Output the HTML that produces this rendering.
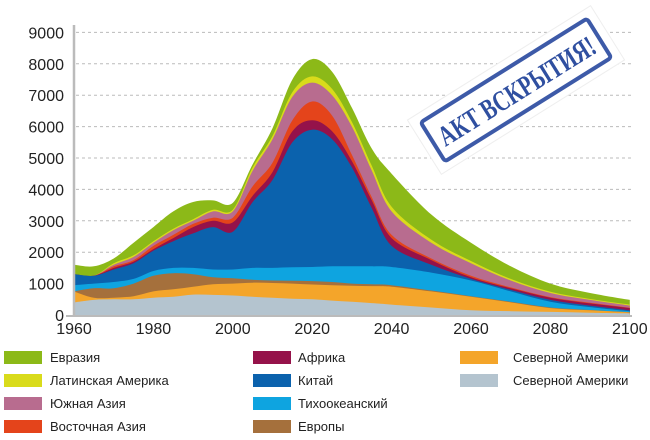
<!DOCTYPE html><html><head><meta charset="utf-8"><style>
body{margin:0;background:#fff;width:650px;height:435px;overflow:hidden;font-family:"Liberation Sans",sans-serif}
</style></head><body>
<svg id="s" width="650" height="435" xmlns="http://www.w3.org/2000/svg" font-family="Liberation Sans, sans-serif">
<g id="grid"></g><g id="areas"></g>
<line x1="74" y1="25" x2="74" y2="316" stroke="#bbb" stroke-width="2.5"/>
<line x1="66" y1="316" x2="632" y2="316" stroke="#bbb" stroke-width="2"/>
<g id="lab" font-size="16" fill="#222"></g>
<g transform="translate(516,90) rotate(-32)">
<rect x="-108" y="-32" width="216" height="64" fill="#fff" stroke="#eee"/>
<rect x="-98" y="-23" width="196" height="46" fill="none" stroke="#3d5aa8" stroke-width="4" rx="3"/>
<text x="0" y="11" text-anchor="middle" font-family="Liberation Serif, serif" font-weight="bold" font-size="29" fill="#2f4fa0" textLength="180" lengthAdjust="spacingAndGlyphs">АКТ ВСКРЫТИЯ!</text>
</g>
<g font-size="13" fill="#222" id="leg"></g>
</svg>
<script>
const X=y=>74+(y-1960)*3.97, Y=v=>315-v*31.4;
const yrs=[1960,1965,1970,1975,1980,1985,1990,1995,2000,2005,2010,2015,2020,2025,2030,2035,2040,2050,2060,2070,2080,2090,2100];
const L=[
["#b4c4cf",[.4,.48,.5,.5,.55,.58,.65,.64,.62,.58,.55,.52,.5,.46,.42,.38,.33,.24,.15,.12,.1,.07,.05]],
["#f4a52a",[.75,.55,.55,.6,.75,.82,.9,.98,1.0,1.03,1.02,1.0,.97,.95,.93,.92,.9,.75,.58,.4,.22,.15,.08]],
["#a5703c",[.75,.85,.85,1.0,1.25,1.33,1.3,1.2,1.17,1.12,1.1,1.09,1.08,1.05,1.0,.98,.95,.78,.6,.42,.24,.16,.09]],
["#0ea4e0",[.95,1.0,1.05,1.15,1.4,1.5,1.5,1.45,1.45,1.5,1.5,1.52,1.53,1.55,1.55,1.55,1.53,1.35,1.1,.75,.42,.25,.12]],
["#0b62ad",[1.3,1.25,1.45,1.65,2.05,2.35,2.6,2.8,2.65,3.6,4.3,5.5,5.9,5.6,4.7,3.4,2.2,1.6,1.15,.8,.48,.3,.15]],
["#95124a",[1.3,1.25,1.5,1.7,2.1,2.45,2.8,3.0,2.95,3.8,4.55,5.85,6.2,5.85,4.9,3.65,2.45,1.75,1.2,.85,.55,.37,.22]],
["#e4441b",[1.3,1.25,1.55,1.75,2.2,2.55,2.9,3.1,3.1,4.1,4.85,6.2,6.8,6.35,5.1,3.75,2.55,1.8,1.25,.88,.57,.39,.23]],
["#b86c8f",[1.3,1.25,1.6,1.85,2.3,2.7,3.0,3.3,3.3,4.6,5.6,6.95,7.4,7.0,6.0,4.6,3.3,2.3,1.65,1.1,.7,.48,.3]],
["#d9db1b",[1.3,1.25,1.65,1.9,2.35,2.75,3.05,3.35,3.35,4.7,5.7,7.1,7.6,7.2,6.15,4.75,3.45,2.4,1.72,1.15,.74,.51,.33]],
["#8cb918",[1.6,1.55,1.8,2.3,2.8,3.3,3.6,3.65,3.57,4.8,5.95,7.5,8.15,7.75,6.6,5.3,4.5,3.2,2.3,1.55,1.0,.7,.48]]];
function path(pts){let d='M'+pts[0].join(',');
for(let i=0;i<pts.length-1;i++){const p0=pts[Math.max(0,i-1)],p1=pts[i],p2=pts[i+1],p3=pts[Math.min(pts.length-1,i+2)];
const c1=[p1[0]+(p2[0]-p0[0])/6,p1[1]+(p2[1]-p0[1])/6],c2=[p2[0]-(p3[0]-p1[0])/6,p2[1]-(p3[1]-p1[1])/6];
d+=` C${c1[0].toFixed(1)},${c1[1].toFixed(1)} ${c2[0].toFixed(1)},${c2[1].toFixed(1)} ${p2[0].toFixed(1)},${p2[1].toFixed(1)}`;}
return d;}
let a='';
for(let i=L.length-1;i>=0;i--){const pts=yrs.map((y,j)=>[X(y),Y(L[i][1][j])]);
a+=`<path fill="${L[i][0]}" d="${path(pts)} L${X(2100)},315 L${X(1960)},315 Z"/>`;}
document.getElementById('areas').innerHTML=a;
let g='',t='';
for(let k=1;k<=9;k++){g+=`<line x1="76" x2="632" y1="${Y(k)}" y2="${Y(k)}" stroke="#bbb" stroke-dasharray="3,3"/>`;}
for(let k=0;k<=9;k++){t+=`<text x="64" y="${Y(k)+6}" text-anchor="end">${k*1000}</text>`;}
for(let y=1960;y<=2100;y+=20){t+=`<text x="${X(y)}" y="334" text-anchor="middle">${y}</text>`;}
document.getElementById('grid').innerHTML=g;document.getElementById('lab').innerHTML=t;
const lg=[[0,0,"#8cb918","Евразия"],[0,1,"#d9db1b","Латинская Америка"],[0,2,"#b86c8f","Южная Азия"],[0,3,"#e4441b","Восточная Азия"],
[1,0,"#95124a","Африка"],[1,1,"#0b62ad","Китай"],[1,2,"#0ea4e0","Тихоокеанский"],[1,3,"#a5703c","Европы"],
[2,0,"#f4a52a","Северной Америки"],[2,1,"#b4c4cf","Северной Америки"]];
const cx=[[4,50],[253,298],[460,513]];let h='';
lg.forEach(([c,r,col,s])=>{const y=351+r*23;h+=`<rect x="${cx[c][0]}" y="${y}" width="38" height="13" fill="${col}"/><text x="${cx[c][1]}" y="${y+11}">${s}</text>`;});
document.getElementById('leg').innerHTML=h;
</script>
</body></html>
